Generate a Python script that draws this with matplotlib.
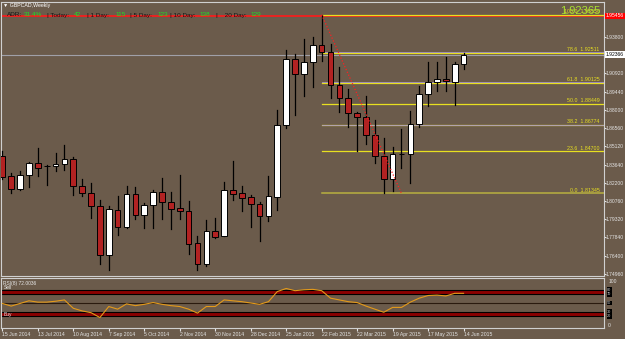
import matplotlib
matplotlib.use("Agg")
import matplotlib.pyplot as plt
import matplotlib.transforms as mtransforms
from matplotlib.patches import Rectangle

plt.rcParams['font.family'] = ['Liberation Sans', 'DejaVu Sans']

# GBPCAD weekly candles, 15 Jun 2014 .. 14 Jun 2015
opens = [1.8432, 1.8273, 1.8167, 1.8278, 1.8374, 1.8350, 1.8350, 1.8368, 1.8410, 1.8191,
         1.8135, 1.8034, 1.7645, 1.8005, 1.7870, 1.8127, 1.7960, 1.8040, 1.8143, 1.8064,
         1.8018, 1.7995, 1.7738, 1.7573, 1.7838, 1.7793, 1.8162, 1.8138, 1.8104, 1.8053,
         1.7952, 1.8108, 1.8676, 1.9201, 1.9084, 1.9177, 1.9312, 1.9256, 1.8994, 1.8891,
         1.8776, 1.8744, 1.8599, 1.8429, 1.8251, 1.8448, 1.8450, 1.8684, 1.8922, 1.9018,
         1.9044, 1.9023, 1.9163]
highs = [1.8472, 1.8294, 1.8313, 1.8387, 1.8498, 1.8360, 1.8453, 1.8519, 1.8426, 1.8251,
         1.8217, 1.8082, 1.8034, 1.8111, 1.8196, 1.8183, 1.8056, 1.8162, 1.8257, 1.8143,
         1.8283, 1.8072, 1.7798, 1.7925, 1.7941, 1.8228, 1.8392, 1.8196, 1.8122, 1.8064,
         1.8275, 1.8798, 1.9275, 1.9243, 1.9360, 1.9380, 1.9555, 1.9322, 1.9142, 1.8962,
         1.8782, 1.8909, 1.8718, 1.8577, 1.8501, 1.8647, 1.8790, 1.8991, 1.9182, 1.9182,
         1.9217, 1.9182, 1.9253]
lows = [1.8249, 1.8135, 1.8162, 1.8188, 1.8273, 1.8201, 1.8313, 1.8321, 1.8122, 1.8114,
        1.7941, 1.7571, 1.7526, 1.7806, 1.7862, 1.7931, 1.7862, 1.7857, 1.7933, 1.7849,
        1.7933, 1.7655, 1.7528, 1.7560, 1.7778, 1.7793, 1.8082, 1.7995, 1.7865, 1.7756,
        1.7915, 1.8003, 1.8657, 1.8758, 1.8909, 1.8983, 1.9187, 1.8895, 1.8784, 1.8660,
        1.8474, 1.8527, 1.8374, 1.81345, 1.8154, 1.8334, 1.8220, 1.8665, 1.8829, 1.8949,
        1.8949, 1.8837, 1.9121]
closes = [1.8265, 1.8172, 1.8278, 1.8374, 1.8339, 1.8350, 1.8371, 1.8410, 1.8193, 1.8135,
          1.8032, 1.7645, 1.8008, 1.7870, 1.8127, 1.7965, 1.8040, 1.8143, 1.8064, 1.8013,
          1.7995, 1.7732, 1.7576, 1.7838, 1.7790, 1.8162, 1.8132, 1.8100, 1.8053, 1.7952,
          1.8111, 1.8676, 1.9201, 1.9084, 1.9177, 1.9312, 1.9256, 1.8994, 1.8891, 1.8776,
          1.8744, 1.8599, 1.8429, 1.8251, 1.8450, 1.8450, 1.8689, 1.8922, 1.9018, 1.9044,
          1.9026, 1.9166, 1.92366]

rsi = [49, 43, 49, 55, 52, 52, 54, 57, 38, 32,
       28, 17, 42, 36, 48, 44, 47, 51, 47, 44,
       42, 36, 27, 42, 42, 57, 55, 53, 50, 47,
       53, 76, 83, 78, 80, 81, 78, 61, 57, 53,
       51, 43, 36, 29, 40, 40, 52, 61, 67, 68,
       66, 72, 72.0036]

date_labels = ["15 Jun 2014", "13 Jul 2014", "10 Aug 2014", "7 Sep 2014", "5 Oct 2014",
               "2 Nov 2014", "30 Nov 2014", "28 Dec 2014", "25 Jan 2015", "22 Feb 2015",
               "22 Mar 2015", "19 Apr 2015", "17 May 2015", "14 Jun 2015"]
price_ticks = [1.93800, 1.90920, 1.89440, 1.88000, 1.86560, 1.85120, 1.83640,
               1.82200, 1.80760, 1.79320, 1.77840, 1.76400, 1.74960]

fib_levels = [100.0, 78.6, 61.8, 50.0, 38.2, 23.6, 0.0]
fib_prices = [1.95550, 1.92511, 1.90125, 1.88449, 1.86774, 1.84700, 1.81345]
fib_start = 36
fib_end = 45
high_line = 1.95456
bid = 1.92366

adr_labels = ["ADR:", "| Today:", "| 1 Day:", "| 5 Day:", "| 10 Day:", "|    20 Day:"]
adr_values = ["31.4%", "42", "115", "123", "138", "129"]
adr_label_x = [7, 47, 87, 130, 170, 216]
adr_value_x = [24, 74, 115, 157, 199, 250]

W, H = 625, 339
BG = "#6B5B4B"
FG = "#E4E4E4"


def box(x0, y0, x1, y1):
    return [x0 / W, 1 - y1 / H, (x1 - x0) / W, (y1 - y0) / H]


fig = plt.figure(figsize=(W / 100, H / 100), dpi=100, facecolor=BG)

# ---- price panel ----
ax = fig.add_axes(box(1, 2, 604, 275.5), facecolor=BG)
ax.set_xlim(-0.15, 67.83)
ax.set_ylim(1.74818, 1.96561)
for s in ax.spines.values():
    s.set_color("#D0D0D0")
    s.set_linewidth(0.8)

for i in range(len(opens)):
    o, h, l, c = opens[i], highs[i], lows[i], closes[i]
    ax.plot([i, i], [l, h], color="black", lw=0.9, zorder=3)
    up = c >= o
    lo = min(o, c)
    hgt = max(abs(c - o), 0.00015)
    ax.add_patch(Rectangle((i - 0.32, lo), 0.64, hgt,
                           facecolor="white" if up else "#B22222",
                           edgecolor="black", lw=0.7, zorder=4))

# bid line and high line
ax.axhline(bid, color="#A0A0A8", lw=0.8, zorder=1)
ax.axhline(high_line, color="#FF1A1A", lw=1.2, zorder=2)

# fibonacci retracement
xmax = ax.get_xlim()[1]
for lev, p in zip(fib_levels, fib_prices):
    col = "#B8B040" if lev == 0.0 else "#E8E020"
    ax.plot([fib_start, xmax], [p, p], color=col, lw=1.1 if lev == 0.0 else 0.9, zorder=2)
    if lev in (78.6, 61.8, 38.2):
        ax.plot([fib_start, xmax], [p + 0.0004, p + 0.0004], color="#A898C8", lw=0.6, zorder=2)
    ax.text(xmax - 0.5, p + 0.0005, "%.1f  %.5f" % (lev, p), color="#E8E020",
            fontsize=3.8, ha="right", va="bottom", zorder=5)
ax.plot([fib_start, fib_end], [fib_prices[0], fib_prices[-1]], color="#FF2020",
        lw=0.9, ls=(0, (1, 1.5)), zorder=5)

ax.set_xticks([])
ax.yaxis.tick_right()
ax.set_yticks(price_ticks)
ax.set_yticklabels(["%.5f" % p for p in price_ticks])
ax.tick_params(axis="y", length=1.2, pad=0.3, labelsize=3.6, colors=FG)

tr = mtransforms.blended_transform_factory(ax.transAxes, ax.transData)
ax.text(1.003, high_line, "1.95456", transform=tr, fontsize=3.6, color="white", va="center",
        ha="left", bbox=dict(facecolor="#FF0000", edgecolor="none", pad=0.6), clip_on=False)
ax.text(1.003, bid, "1.92366", transform=tr, fontsize=3.6, color="black", va="center",
        ha="left", bbox=dict(facecolor="white", edgecolor="none", pad=0.6), clip_on=False)

# ---- RSI panel ----
ax2 = fig.add_axes(box(1, 277.5, 604, 328), facecolor=BG)
ax2.set_xlim(-0.15, 67.83)
ax2.set_ylim(-6.8, 107.95)
for s in ax2.spines.values():
    s.set_color("#D0D0D0")
    s.set_linewidth(0.8)
for a, b in [(70, 80), (20, 30)]:
    ax2.axhspan(a, b, color="#8B0000", lw=0)
    ax2.axhline(a, color="black", lw=0.8)
    ax2.axhline(b, color="black", lw=0.8)
ax2.axhline(50, color="#2A1A0E", lw=0.8)
ax2.plot(range(len(rsi)), rsi, color="#E49A1A", lw=0.8, zorder=4)

ax2.yaxis.tick_right()
ax2.set_yticks([0, 100])
ax2.set_yticklabels(["0", "100"])
ax2.tick_params(axis="y", length=0, pad=3, labelsize=3.6, colors=FG)
tr2 = mtransforms.blended_transform_factory(ax2.transAxes, ax2.transData)
for lv in [80, 70, 50, 30, 20]:
    ax2.text(1.005, lv, str(lv), transform=tr2, fontsize=2.8, color="#C8C8C8", va="center",
             ha="left", bbox=dict(facecolor="black", edgecolor="none", pad=0.3), clip_on=False)

ax2.set_xticks(range(0, len(opens), 4))
ax2.set_xticklabels(date_labels)
for lbl in ax2.get_xticklabels():
    lbl.set_ha("left")
ax2.tick_params(axis="x", length=2, pad=1.2, labelsize=3.7, colors=FG)

ax2.text(0.004, 0.93, "RSI(8) 72.0036", transform=ax2.transAxes, fontsize=3.5,
         color="#E8E8E8", va="top", ha="left")
ax2.text(0.005, 80.5, "Sell", fontsize=3.5, color="#E8E8E8", va="bottom", ha="left",
         transform=tr2)
ax2.text(0.005, 25, "Buy", fontsize=3.5, color="#E8E8E8", va="center", ha="left",
         transform=tr2)

# ---- header texts ----
fig.text(3 / W, 1 - 6 / H, "\u25bc GBPCAD,Weekly", fontsize=3.8, color="white", va="center")
for t, x in zip(adr_labels, adr_label_x):
    fig.text(x / W, 1 - 15 / H, t, fontsize=4.6, color="#151515", va="center", zorder=6)
for t, x in zip(adr_values, adr_value_x):
    fig.text(x / W, 1 - 15 / H, t, fontsize=4.6, color="#22E022", va="center", zorder=6)
fig.text(560 / W, 1 - 13.5 / H, "1.92365", fontsize=8, color="#A8E030", va="baseline")

fig.savefig("out.png", dpi=100, facecolor=BG)
